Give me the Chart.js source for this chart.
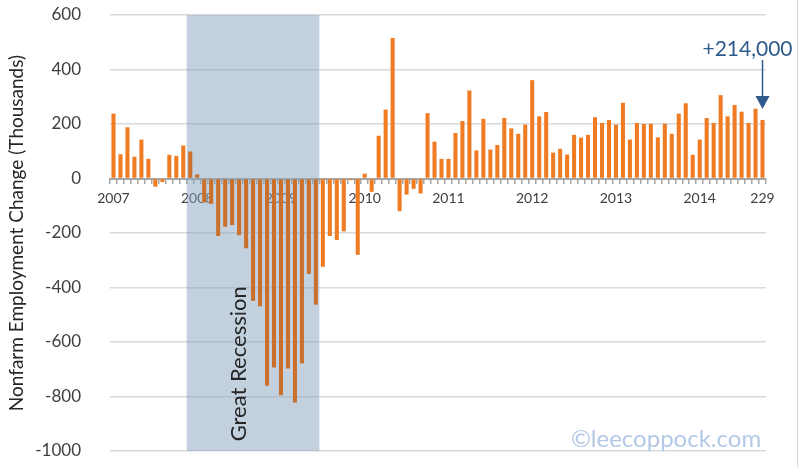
<!DOCTYPE html>
<html>
<head>
<meta charset="utf-8">
<script src="https://cdn.jsdelivr.net/npm/chart.js@4.4.1/dist/chart.umd.min.js"></script>
<style>
  html, body { margin: 0; padding: 0; background: #ffffff; }
  #wrap { width: 800px; height: 467px; position: relative; }
</style>
</head>
<body>
<div id="wrap"><canvas id="c" width="800" height="467"></canvas></div>
<script>
// ---- Data (thousands of jobs, monthly change) ----
const years = ['2007', '2008', '2009', '2010', '2011', '2012', '2013', '2014'];
const monthNames = ['Jan','Feb','Mar','Apr','May','Jun','Jul','Aug','Sep','Oct','Nov','Dec'];

const values2007 = [238, 89, 188, 80, 143, 72, -30, -13, 87, 83, 121, 99];
const values2008 = [15, -88, -93, -211, -177, -171, -208, -256, -449, -469, -761, -694];
const values2009 = [-795, -697, -822, -679, -350, -463, -324, -211, -226, -194, -6, -280];
const values2010 = [18, -49, 157, 253, 516, -120, -59, -38, -55, 240, 135, 72];
const values2011 = [72, 167, 211, 323, 103, 219, 106, 123, 222, 184, 164, 198];
const values2012 = [361, 228, 244, 95, 109, 88, 160, 150, 160, 225, 204, 215];
const values2013 = [198, 278, 143, 204, 200, 201, 151, 201, 164, 238, 276, 87];
const values2014 = [143, 222, 204, 306, 228, 270, 245, 204, 256, 215];

const lastTickLabel = '229';
const annotationText = '+214,000';
const recessionLabel = 'Great Recession';
const recessionStartIndex = 11;  // Dec 2007
const recessionEndIndex = 29;    // Jun 2009
const yTicks = [600, 400, 200, 0, -200, -400, -600, -800, -1000];

const values = [].concat(values2007, values2008, values2009, values2010,
                         values2011, values2012, values2013, values2014);
const categories = [];
years.forEach(y => monthNames.forEach(m => categories.push(m + ' ' + y)));
categories.length = values.length;

function tickLabelFor(i) {
  if (i === values.length - 1) return lastTickLabel;
  if (i % 12 === 0) return years[i / 12];
  return '';
}

const FONT = 'Lato, "Open Sans", sans-serif';

const recessionPlugin = {
  id: 'recession',
  beforeDatasetsDraw(chart) {
    const { ctx, chartArea, scales } = chart;
    const x = scales.x;
    const half = (x.getPixelForValue(1) - x.getPixelForValue(0)) / 2;
    const x0 = x.getPixelForValue(recessionStartIndex) - half;
    const x1 = x.getPixelForValue(recessionEndIndex) + half;
    ctx.save();
    ctx.fillStyle = 'rgba(136,163,192,0.5)';
    ctx.fillRect(x0, chartArea.top, x1 - x0, chartArea.bottom - chartArea.top);
    ctx.restore();
  },
  afterDatasetsDraw(chart) {
    const { ctx, chartArea, scales } = chart;
    const x = scales.x, y = scales.y;
    const half = (x.getPixelForValue(1) - x.getPixelForValue(0)) / 2;
    const x0 = x.getPixelForValue(recessionStartIndex) - half;
    const x1 = x.getPixelForValue(recessionEndIndex) + half;
    // rotated label
    ctx.save();
    ctx.translate((x0 + x1) / 2 - 14, y.getPixelForValue(-680));
    ctx.rotate(-Math.PI / 2);
    ctx.fillStyle = '#262626';
    ctx.font = '22px ' + FONT;
    ctx.textAlign = 'center';
    ctx.textBaseline = 'middle';
    ctx.fillText(recessionLabel, 0, 0);
    ctx.restore();

    // annotation arrow to last bar
    const li = values.length - 1;
    const ax = x.getPixelForValue(li);
    const topY = y.getPixelForValue(values[li]);
    ctx.save();
    ctx.strokeStyle = '#2E5A8C';
    ctx.fillStyle = '#2E5A8C';
    ctx.lineWidth = 1.5;
    ctx.beginPath();
    ctx.moveTo(ax, chartArea.top + 45);
    ctx.lineTo(ax, topY - 22);
    ctx.stroke();
    ctx.beginPath();
    ctx.moveTo(ax - 7, topY - 24);
    ctx.lineTo(ax + 7, topY - 24);
    ctx.lineTo(ax, topY - 11);
    ctx.closePath();
    ctx.fill();
    ctx.font = '21px ' + FONT;
    ctx.textAlign = 'center';
    ctx.textBaseline = 'alphabetic';
    ctx.fillText(annotationText, ax - 15, chartArea.top + 41);
    ctx.restore();

    // watermark
    ctx.save();
    ctx.font = '24px ' + FONT;
    ctx.fillStyle = '#B4C8E6';
    ctx.textAlign = 'center';
    ctx.textBaseline = 'alphabetic';
    ctx.fillText('\u00A9leecoppock.com', 666, chartArea.bottom - 4);
    ctx.restore();

    // frame edge at right
    ctx.save();
    ctx.strokeStyle = '#D6D6D6';
    ctx.lineWidth = 1;
    ctx.beginPath();
    ctx.moveTo(797.5, 0);
    ctx.lineTo(797.5, 467);
    ctx.stroke();
    ctx.restore();
  }
};

new Chart(document.getElementById('c'), {
  type: 'bar',
  data: {
    labels: categories,
    datasets: [{
      data: values,
      backgroundColor: (c) => (c.dataIndex >= recessionStartIndex && c.dataIndex <= recessionEndIndex) ? '#C9702C' : '#EF7B22',
      borderWidth: 0,
      categoryPercentage: 1.0,
      barPercentage: 0.58
    }]
  },
  options: {
    responsive: false,
    animation: false,
    devicePixelRatio: 1,
    layout: { padding: { top: 15, right: 34, bottom: 16, left: 0 } },
    plugins: { legend: { display: false }, tooltip: { enabled: false } },
    scales: {
      x: {
        position: { y: 0 },
        offset: true,
        afterFit: (a) => { a.height = 0; a.paddingTop = 0; a.paddingBottom = 0; a.paddingLeft = 0; a.paddingRight = 0; },
        grid: {
          offset: true,
          drawOnChartArea: false,
          drawTicks: true,
          tickLength: 4,
          color: '#A6A6A6',
          lineWidth: 1.5
        },
        border: { display: true, color: '#A6A6A6', width: 2 },
        ticks: {
          autoSkip: false,
          maxRotation: 0,
          padding: 8,
          color: '#404040',
          font: { family: FONT, size: 14 },
          callback: (v, i) => tickLabelFor(i)
        }
      },
      y: {
        min: -1000,
        max: 600,
        afterBuildTicks: (axis) => { axis.ticks = yTicks.map(v => ({ value: v })); },
        afterFit: (a) => { a.width = 110; a.paddingTop = 0; a.paddingBottom = 0; },
        grid: {
          drawTicks: false,
          color: (c) => c.tick && c.tick.value === 0 ? 'rgba(0,0,0,0)' : '#D9D9D9',
          lineWidth: 1.5
        },
        border: { display: false },
        ticks: {
          padding: 29,
          color: '#404040',
          font: { family: FONT, size: 17 },
          callback: (v) => String(v)
        },
        title: {
          display: true,
          text: 'Nonfarm Employment Change (Thousands)',
          color: '#262626',
          font: { family: FONT, size: 19 },
          padding: { top: 5, bottom: 0 }
        }
      }
    }
  },
  plugins: [recessionPlugin]
});
</script>
</body>
</html>
